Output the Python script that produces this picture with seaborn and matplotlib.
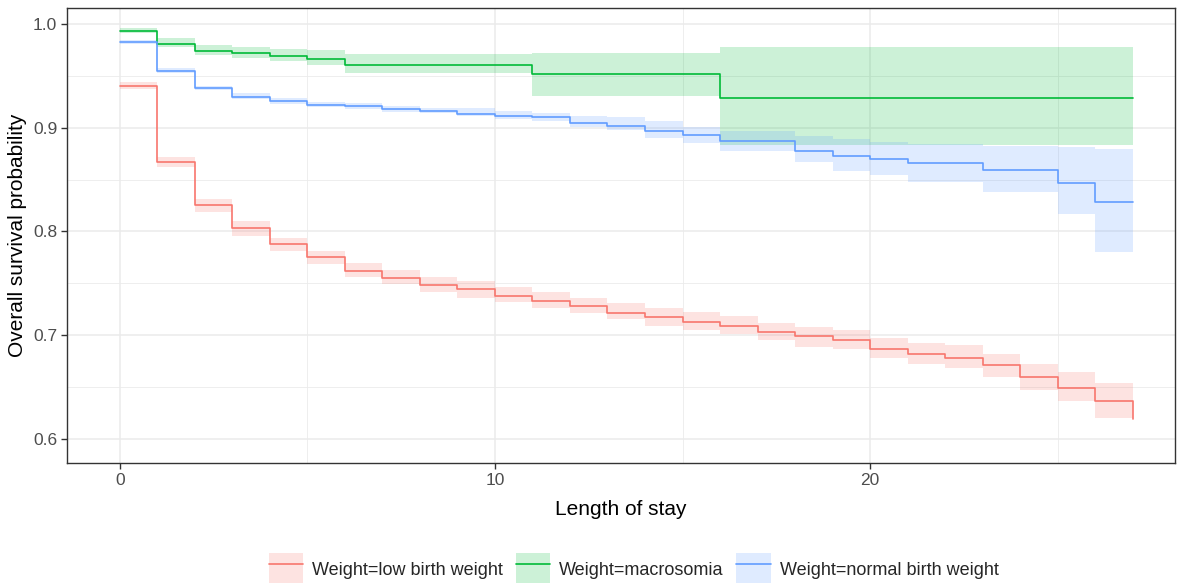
import pandas as pd
import matplotlib.pyplot as plt
import seaborn as sns
from matplotlib.patches import Patch
from matplotlib.lines import Line2D
from matplotlib.legend_handler import HandlerTuple

# --- Kaplan-Meier estimates (step-post) ---
low_days = list(range(0, 28))
low_surv = [0.940, 0.867, 0.825, 0.803, 0.788, 0.775, 0.762, 0.755, 0.748, 0.744,
            0.738, 0.733, 0.728, 0.721, 0.717, 0.713, 0.709, 0.703, 0.699, 0.695,
            0.687, 0.682, 0.678, 0.671, 0.660, 0.649, 0.636, 0.619]
low_upper = [0.944, 0.872, 0.831, 0.810, 0.794, 0.781, 0.770, 0.763, 0.756, 0.752,
             0.746, 0.742, 0.736, 0.731, 0.726, 0.722, 0.718, 0.712, 0.708, 0.705,
             0.697, 0.692, 0.690, 0.682, 0.672, 0.664, 0.654, 0.654]
low_lower = [0.937, 0.862, 0.819, 0.796, 0.781, 0.769, 0.756, 0.749, 0.742, 0.736,
             0.732, 0.726, 0.721, 0.716, 0.709, 0.705, 0.701, 0.695, 0.689, 0.687,
             0.678, 0.672, 0.668, 0.660, 0.647, 0.636, 0.620, 0.620]

macro_days = [0, 1, 2, 3, 4, 5, 6, 11, 16, 27]
macro_surv = [0.993, 0.981, 0.974, 0.972, 0.969, 0.966, 0.960, 0.952, 0.929, 0.929]
macro_upper = [0.996, 0.986, 0.980, 0.978, 0.976, 0.975, 0.971, 0.972, 0.978, 0.978]
macro_lower = [0.991, 0.978, 0.970, 0.967, 0.964, 0.960, 0.953, 0.931, 0.883, 0.883]

normal_days = [0, 1, 2, 3, 4, 5, 6, 7, 8, 9, 10, 11, 12, 13, 14, 15, 16,
               18, 19, 20, 21, 23, 25, 26, 27]
normal_surv = [0.983, 0.955, 0.938, 0.930, 0.926, 0.922, 0.921, 0.918, 0.916, 0.913,
               0.911, 0.910, 0.905, 0.902, 0.897, 0.893, 0.887, 0.878, 0.873, 0.870,
               0.866, 0.859, 0.847, 0.828, 0.828]
normal_upper = [0.985, 0.958, 0.940, 0.933, 0.929, 0.925, 0.924, 0.921, 0.919, 0.919,
                0.916, 0.914, 0.911, 0.910, 0.906, 0.901, 0.897, 0.892, 0.889, 0.886,
                0.884, 0.882, 0.881, 0.879, 0.879]
normal_lower = [0.981, 0.953, 0.936, 0.928, 0.923, 0.920, 0.918, 0.915, 0.914, 0.911,
                0.908, 0.906, 0.901, 0.898, 0.890, 0.885, 0.878, 0.867, 0.858, 0.854,
                0.848, 0.838, 0.817, 0.780, 0.780]

groups = ["Weight=low birth weight", "Weight=macrosomia", "Weight=normal birth weight"]
colors = ["#F8766D", "#00BA38", "#619CFF"]

frames = []
for name, d, s, lo, up in zip(groups,
                              [low_days, macro_days, normal_days],
                              [low_surv, macro_surv, normal_surv],
                              [low_lower, macro_lower, normal_lower],
                              [low_upper, macro_upper, normal_upper]):
    frames.append(pd.DataFrame({"time": d, "surv": s, "lower": lo, "upper": up, "strata": name}))
df = pd.concat(frames, ignore_index=True)

# --- Theme ---
sns.set_theme(style="whitegrid")
plt.rcParams["font.family"] = ["Liberation Sans", "DejaVu Sans"]

fig = plt.figure(figsize=(11.8, 5.83), dpi=100)
ax = fig.add_axes([67 / 1180, 1 - 463 / 583, (1175 - 67) / 1180, (463 - 8) / 583])

for name, col in zip(groups, colors):
    sub = df[df["strata"] == name]
    ax.fill_between(sub["time"], sub["lower"], sub["upper"], step="post",
                    color=col, alpha=0.2, linewidth=0, zorder=2)

sns.lineplot(data=df, x="time", y="surv", hue="strata", palette=colors,
             estimator=None, sort=False, drawstyle="steps-post", linewidth=1.2,
             legend=False, ax=ax, zorder=3)

ax.set_xlim(-1.41, 28.13)
ax.set_ylim(0.5767, 1.0154)
ax.set_xticks([0, 10, 20])
ax.set_xticks([5, 15, 25], minor=True)
ax.set_yticks([0.6, 0.7, 0.8, 0.9, 1.0])
ax.set_yticklabels(["0.6", "0.7", "0.8", "0.9", "1.0"])
ax.set_yticks([0.65, 0.75, 0.85, 0.95], minor=True)

ax.grid(which="major", color="#EBEBEB", linewidth=1.1)
ax.grid(which="minor", color="#EBEBEB", linewidth=0.6)
ax.set_axisbelow(True)
for sp in ax.spines.values():
    sp.set_visible(True)
    sp.set_color("#333333")
    sp.set_linewidth(1.0)
ax.tick_params(which="major", length=4, width=1.0, color="#333333",
               labelsize=12.5, labelcolor="#4D4D4D", pad=3, bottom=True, left=True)
ax.tick_params(which="minor", length=0)

ax.set_xlabel("Length of stay", fontsize=15, color="black", labelpad=9)
ax.set_ylabel("Overall survival probability", fontsize=15, color="black", labelpad=4)

handles = [(Patch(facecolor=c, alpha=0.2, linewidth=0), Line2D([], [], color=c, linewidth=1.2))
           for c in colors]
fig.legend(handles, groups, handler_map={tuple: HandlerTuple(ndivide=1, pad=0)},
           loc="center", bbox_to_anchor=(0.537, 0.024), ncol=3, frameon=False,
           fontsize=13, handlelength=1.9, handleheight=2.3, handletextpad=0.5,
           columnspacing=0.7, borderpad=0.1)

fig.savefig("out.png", dpi=100)
